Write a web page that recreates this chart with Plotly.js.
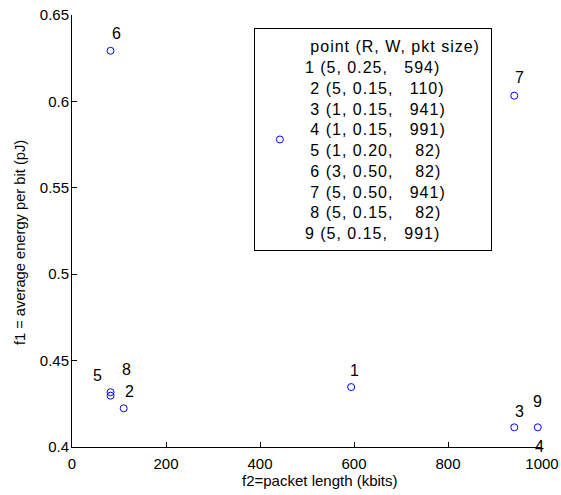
<!DOCTYPE html>
<html>
<head>
<meta charset="utf-8">
<script src="https://cdn.plot.ly/plotly-3.0.1.min.js"></script>
<style>
  html, body { margin: 0; padding: 0; background: #fff; }
  #chart { width: 561px; height: 495px; }
  text.legendtext { letter-spacing: 1px; }
</style>
</head>
<body>
<div id="chart"></div>
<script>
// ---- data ----
var pointIds   = [1, 2, 3, 4, 5, 6, 7, 8, 9];
var paramR     = [5, 5, 1, 1, 1, 3, 5, 5, 5];
var paramW     = [0.25, 0.15, 0.15, 0.15, 0.20, 0.50, 0.50, 0.15, 0.15];
var pktSize    = [594, 110, 941, 991, 82, 82, 941, 82, 991];          // f2 (kbits)
var energy     = [0.4347, 0.4224, 0.4114, 0.395, 0.4317, 0.6293, 0.6033, 0.4297, 0.4114]; // f1 (pJ)
// label anchor positions (data coords, as placed in the figure)
var labelX     = [602, 122, 953, 994, 55, 94, 953, 115, 991];
var labelY     = [0.444, 0.432, 0.4204, 0.4005, 0.4413, 0.6394, 0.614, 0.4446, 0.4265];
var legendIndent = [0, 1, 1, 1, 1, 1, 1, 1, 0];
var xTicks = [0, 200, 400, 600, 800, 1000];
var yTicks = [0.4, 0.45, 0.5, 0.55, 0.6, 0.65];
var yTickText = ['0.4', '0.45', '0.5', '0.55', '0.6', '0.65'];
var xTitle = 'f2=packet length (kbits)';
var yTitle = 'f1 = average energy per bit (pJ)';

var NB = '\u00A0';
function pad(s, n) { s = String(s); while (s.length < n) s = NB + s; return s; }
var lines = [NB + 'point (R, W, pkt size)' + NB];
for (var i = 0; i < pointIds.length; i++) {
  lines.push((legendIndent[i] ? NB : '') + pointIds[i] + ' (' + paramR[i] + ', ' +
    paramW[i].toFixed(2) + ',' + NB + NB + pad(pktSize[i], 4) + ')');
}

var FONT = 'Liberation Sans, Arial, Helvetica, sans-serif';

var trace = {
  x: pktSize, y: energy, type: 'scatter', mode: 'markers',
  name: lines.join('<br>'),
  marker: { symbol: 'circle-open', size: 7, color: '#0000ff', line: { width: 1, color: '#0000ff' } },
  cliponaxis: true, showlegend: true, hoverinfo: 'x+y'
};

var annotations = pointIds.map(function (id, i) {
  return { x: labelX[i], y: labelY[i], xref: 'x', yref: 'y', text: String(id),
    showarrow: false, xanchor: 'center', yanchor: 'middle',
    font: { family: FONT, size: 16, color: '#000' } };
});
annotations.push({ x: 0.528, y: -0.0764, xref: 'paper', yref: 'paper', text: xTitle,
  showarrow: false, xanchor: 'center', yanchor: 'middle',
  font: { family: FONT, size: 15, color: '#000' } });
annotations.push({ x: -0.1106, y: 0.472, xref: 'paper', yref: 'paper', text: yTitle,
  showarrow: false, xanchor: 'center', yanchor: 'middle', textangle: -90,
  font: { family: FONT, size: 14.7, color: '#000' } });

var layout = {
  width: 561, height: 495,
  margin: { l: 72, r: 19, t: 15, b: 48 },
  paper_bgcolor: '#fff', plot_bgcolor: '#fff',
  font: { family: FONT, size: 15, color: '#000' },
  showlegend: true,
  legend: {
    x: 0.387, y: 0.97, xanchor: 'left', yanchor: 'top',
    bgcolor: '#fff', bordercolor: '#000', borderwidth: 1,
    font: { family: FONT, size: 16, color: '#000' },
    valign: 'middle', itemwidth: 40
  },
  xaxis: {
    range: [0, 1000], tickvals: xTicks, ticktext: xTicks.map(String),
    showline: true, linecolor: '#000', linewidth: 1, mirror: false,
    ticks: 'inside', ticklen: 5, tickcolor: '#000', showgrid: false, zeroline: false,
    tickfont: { family: FONT, size: 15, color: '#000' }, ticklabelstandoff: 3
  },
  yaxis: {
    range: [0.4, 0.65], tickvals: yTicks, ticktext: yTickText,
    showline: true, linecolor: '#000', linewidth: 1, mirror: false,
    ticks: 'inside', ticklen: 5, tickcolor: '#000', showgrid: false, zeroline: false,
    tickfont: { family: FONT, size: 15, color: '#000' }, ticklabelstandoff: -1
  },
  annotations: annotations
};

Plotly.newPlot('chart', [trace], layout, { displayModeBar: false, staticPlot: true });
</script>
</body>
</html>
